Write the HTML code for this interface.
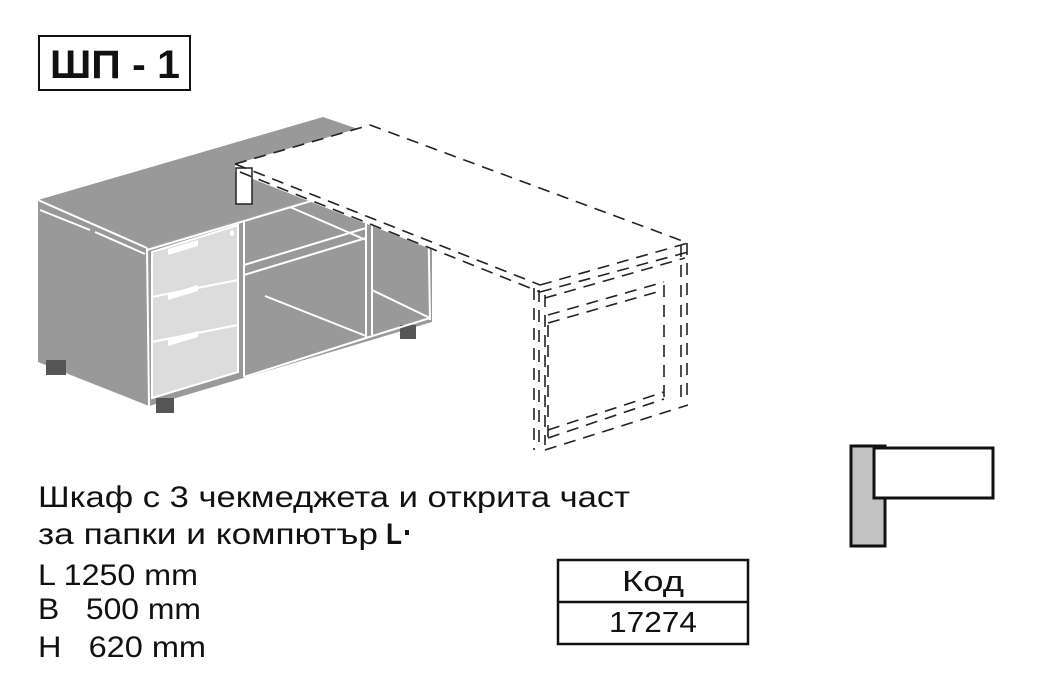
<!DOCTYPE html>
<html><head><meta charset="utf-8"><style>html,body{margin:0;padding:0;background:#fff;width:1044px;height:682px;overflow:hidden}</style></head>
<body>
<svg width="1044" height="682" viewBox="0 0 1044 682" xmlns="http://www.w3.org/2000/svg" font-family="Liberation Sans, DejaVu Sans, sans-serif">
<!-- title -->
<rect x="39" y="36" width="151" height="54" fill="none" stroke="#111" stroke-width="2"/>
<text x="50" y="78" font-size="40" font-weight="bold" fill="#111" textLength="130" lengthAdjust="spacingAndGlyphs">ШП - 1</text>

<!-- cabinet -->
<g fill="#999">
<polygon points="38,200 323,117 358,129 432,163 147,248"/>
<polygon points="38,200 147,248 149,406 38,362"/>
<polygon points="147,248 432,163 432,322 149,406"/>
<rect x="46" y="360" width="20" height="15" fill="#555"/>
<rect x="156" y="398" width="18" height="15" fill="#555"/>
<rect x="400" y="325" width="16" height="14" fill="#555"/>
</g>
<g stroke="#fff" stroke-width="2" fill="none">
<line x1="38" y1="200" x2="147" y2="248"/>
<line x1="147" y1="248" x2="149" y2="406"/>
<line x1="40" y1="210" x2="90" y2="230"/>
<line x1="95" y1="232" x2="145" y2="254"/>
<polyline points="147,250 432,165"/>
<line x1="244" y1="220" x2="244" y2="377"/>
<line x1="366" y1="184" x2="366" y2="338"/>
<line x1="372" y1="182" x2="372" y2="335"/>
<line x1="428" y1="200" x2="430" y2="320"/>
<polyline points="244,377 366,338 430,318"/>
<line x1="244" y1="265" x2="366" y2="228"/>
<line x1="244" y1="275" x2="366" y2="238"/>
<line x1="265" y1="296" x2="366" y2="336"/>
<line x1="372" y1="290" x2="430" y2="318"/>
<line x1="290" y1="207" x2="366" y2="240"/>
</g>
<!-- drawers -->
<g fill="#dcdcdc" stroke="#fff" stroke-width="2">
<polygon points="152,252 238,225 238,280 152,297"/>
<polygon points="152,297 238,280 238,325 152,342"/>
<polygon points="152,342 238,325 238,372 152,398"/>
</g>
<g fill="#fff">
<polygon points="168,249 198,240 198,246 168,255"/>
<polygon points="168,294 198,285 198,291 168,300"/>
<polygon points="168,340 198,331 198,337 168,346"/>
<ellipse cx="232" cy="233" rx="2" ry="3" fill="#fff"/>
</g>
<!-- desk top -->
<polygon points="235,164 370,125 688,243 540,285" fill="#fff"/>
<polygon points="235,164 540,285 540,292 235,172" fill="#fff"/>
<rect x="236" y="168" width="16" height="36" fill="#fff" stroke="#222" stroke-width="1.5"/>
<g fill="none" stroke="#222" stroke-width="1.6" stroke-dasharray="12,8">
<polyline points="235,164 370,125 688,243"/>
<line x1="235" y1="164" x2="540" y2="285"/>
<line x1="240" y1="172" x2="540" y2="292"/>
<polyline points="540,285 688,243"/>
<polyline points="540,292 688,252"/>
<polyline points="545,298 685,258"/>
<line x1="534" y1="288" x2="534" y2="450"/>
<line x1="539" y1="290" x2="539" y2="450"/>
<line x1="545" y1="295" x2="545" y2="445"/>
<line x1="681" y1="245" x2="681" y2="404"/>
<line x1="687" y1="243" x2="687" y2="400"/>
<line x1="664" y1="285" x2="664" y2="400"/>
<polyline points="548,315 664,282"/>
<polyline points="548,323 664,290"/>
<line x1="548" y1="325" x2="548" y2="440"/>
<polyline points="548,438 664,399"/>
<polyline points="548,430 664,392"/>
<polyline points="545,450 688,405"/>
</g>

<!-- text -->
<g fill="#111" font-size="30">
<text x="38" y="507" textLength="592" lengthAdjust="spacingAndGlyphs">Шкаф с 3 чекмеджета и открита част</text>
<text x="38" y="544" textLength="340" lengthAdjust="spacingAndGlyphs">за папки и компютър</text>
<text x="386" y="544" font-weight="bold" textLength="16" lengthAdjust="spacingAndGlyphs">L</text>
<rect x="405" y="530" width="4" height="5"/>
<text x="38" y="585" textLength="160" lengthAdjust="spacingAndGlyphs">L 1250 mm</text>
<text x="38" y="619" xml:space="preserve" textLength="163" lengthAdjust="spacingAndGlyphs">B   500 mm</text>
<text x="38" y="657" xml:space="preserve" textLength="168" lengthAdjust="spacingAndGlyphs">H   620 mm</text>
</g>
<!-- table -->
<rect x="558" y="560" width="190" height="84" fill="none" stroke="#111" stroke-width="2.5"/>
<line x1="558" y1="602" x2="748" y2="602" stroke="#111" stroke-width="2.5"/>
<text x="653" y="591" font-size="29" text-anchor="middle" fill="#111" textLength="62" lengthAdjust="spacingAndGlyphs">Код</text>
<text x="653" y="632" font-size="29" text-anchor="middle" fill="#111" textLength="88" lengthAdjust="spacingAndGlyphs">17274</text>

<!-- icon -->
<rect x="851" y="446" width="34" height="100" fill="#c2c2c2" stroke="#111" stroke-width="3"/>
<rect x="874" y="448" width="119" height="50" fill="#fff" stroke="#111" stroke-width="3"/>
</svg>
</body></html>
